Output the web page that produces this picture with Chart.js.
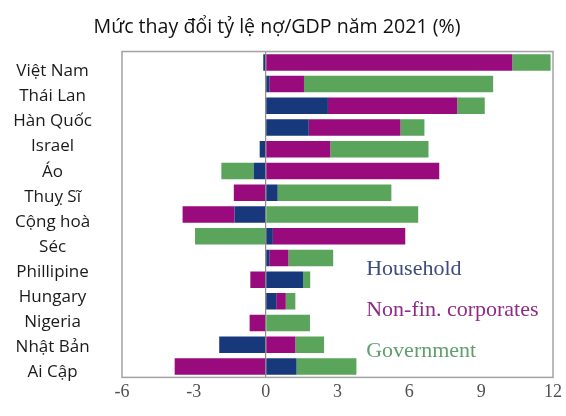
<!DOCTYPE html>
<html>
<head>
<meta charset="utf-8">
<script src="https://cdn.jsdelivr.net/npm/chart.js@4"></script>
<style>
  html, body { margin: 0; padding: 0; background: #fff; }
  #wrap { width: 566px; height: 416px; }
</style>
</head>
<body>
<div id="wrap"><canvas id="debtChart" width="566" height="416"></canvas></div>
<script>
// rows of bars, top to bottom
var rows = ['1','2','3','4','5','6','7','8','9','10','11','12','13','14','15'];

// country names printed down the left side (as in the picture)
var countryLabels = ['Việt Nam','Thái Lan','Hàn Quốc','Israel','Áo','Thuỵ Sĩ',
  'Cộng hoà','Séc','Phillipine','Hungary','Nigeria','Nhật Bản','Ai Cập'];

// change in debt/GDP, percentage points
var household = [-0.1, 0.15, 2.6, 1.8, -0.25, -0.5, 0.5, -1.3, 0.3, 0.15, 1.56, 0.44, 0, -1.94, 1.29];
var nonFin    = [10.3, 1.45, 5.4, 3.83, 2.7, 7.25, -1.33, -2.17, 5.53, 0.8, -0.64, 0.4, -0.67, 1.24, -3.8];
var government= [1.6, 7.9, 1.15, 1.0, 4.1, -1.35, 4.75, 6.37, -2.95, 1.87, 0.3, 0.4, 1.85, 1.2, 2.5];

var xTicks = [-6, -3, 0, 3, 6, 9, 12];

// frame round the plot
const frame = {
  id: 'frame',
  afterDatasetsDraw(chart) {
    const a = chart.chartArea, c = chart.ctx;
    c.save();
    c.strokeStyle = '#a3a3a3';
    c.lineWidth = 1.5;
    c.strokeRect(a.left, a.top, a.right - a.left, a.bottom - a.top);
    c.restore();
  }
};

// text legend inside the plot, no boxes
const textLegend = {
  id: 'textLegend',
  afterDatasetsDraw(chart) {
    const c = chart.ctx, a = chart.chartArea;
    const x = chart.scales.x.getPixelForValue(4.2);
    c.save();
    c.font = '22px "Liberation Serif", serif';
    c.textAlign = 'left';
    c.textBaseline = 'middle';
    chart.data.datasets.forEach(function (ds, i) {
      c.fillStyle = ds.legendColor;
      c.fillText(ds.label, x, a.top + 218 + i * 41);
    });
    c.restore();
  }
};

new Chart(document.getElementById('debtChart'), {
  type: 'bar',
  data: {
    labels: rows,
    datasets: [
      {
        label: 'Household',
        data: household,
        backgroundColor: '#17387a',
        legendColor: '#3d4c7c',
      },
      {
        label: 'Non-fin. corporates',
        data: nonFin,
        backgroundColor: '#990a7c',
        legendColor: '#8e2c85',
      },
      {
        label: 'Government',
        data: government,
        backgroundColor: '#5aa55b',
        legendColor: '#5f9f6c',
      },
    ]
  },
  options: {
    indexAxis: 'y',
    responsive: false,
    animation: false,
    datasets: {
      bar: { categoryPercentage: 1, barPercentage: 0.76, borderWidth: 0 }
    },
    layout: { padding: { left: 0, right: 12, top: 0, bottom: 9 } },
    plugins: {
      legend: { display: false },
      tooltip: { enabled: false },
      title: {
        display: true,
        text: 'Mức thay đổi tỷ lệ nợ/GDP năm 2021 (%)',
        color: '#111',
        font: { family: 'Open Sans', size: 19.6, weight: 'normal' },
        padding: { top: 16, bottom: 12 }
      }
    },
    scales: {
      x: {
        stacked: true,
        min: -6,
        max: 12,
        afterBuildTicks: function (axis) { axis.ticks = xTicks.map(function (v) { return { value: v }; }); },
        ticks: {
          padding: 4,
          color: '#505050',
          font: { family: 'Liberation Serif', size: 18 }
        },
        grid: {
          drawTicks: false,
          color: function (ctx) { return ctx.tick && ctx.tick.value === 0 ? '#8c8c8c' : 'rgba(0,0,0,0)'; },
          lineWidth: 1.2
        },
        border: { display: false }
      },
      y: {
        stacked: true,
        display: false
      },
      // name column, spaced independently of the bars
      y2: {
        type: 'linear',
        position: 'left',
        reverse: true,
        offset: false,
        bounds: 'data',
        min: -0.79,
        max: 12.2,
        afterBuildTicks: function (axis) { axis.ticks = countryLabels.map(function (l, i) { return { value: i }; }); },
        afterFit: function (axis) {
          axis.width = 122;
          axis.paddingTop = 0;
          axis.paddingBottom = 0;
        },
        ticks: {
          autoSkip: false,
          crossAlign: 'center',
          padding: 30,
          color: '#1a1a1a',
          font: { family: 'Open Sans', size: 17 },
          callback: function (v) { return countryLabels[v]; }
        },
        grid: { display: false, drawTicks: false },
        border: { display: false }
      }
    }
  },
  plugins: [frame, textLegend]
});
</script>
</body>
</html>
